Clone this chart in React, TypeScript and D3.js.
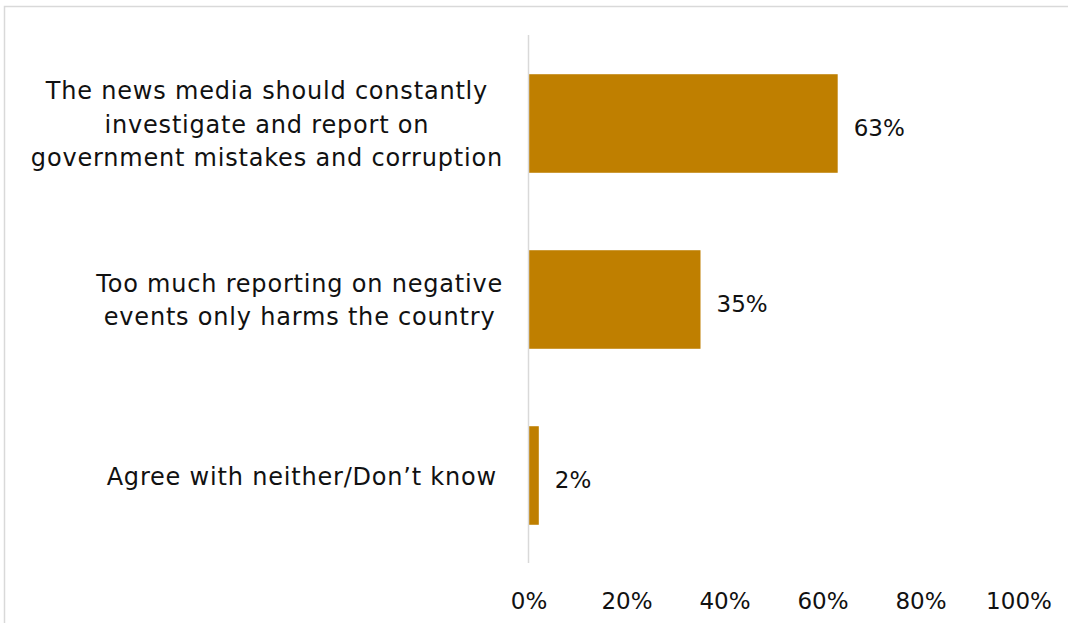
import React, { useEffect, useRef } from "react";
import * as d3 from "d3";

const categories: string[][] = [
  ["The news media should constantly", "investigate and report on", "government mistakes and corruption"],
  ["Too much reporting on negative", "events only harms the country"],
  ["Agree with neither/Don\u2019t know"],
];
const values: number[] = [63, 35, 2];
const ticks: number[] = [0, 20, 40, 60, 80, 100];

const W = 1068;
const H = 623;
const FONT = "'DejaVu Sans', sans-serif";
const BAR = "#BF7F00";
const TEXT = "#111111";

export default function App() {
  const ref = useRef<SVGSVGElement | null>(null);
  useEffect(() => {
    const svg = d3.select(ref.current);
    svg.selectAll("*").remove();

    const x = d3.scaleLinear().domain([0, 100]).range([529, 1019]);
    const y = d3
      .scaleBand<number>()
      .domain(d3.range(values.length))
      .range([35.5, 563.5])
      .paddingInner(0.44)
      .paddingOuter(0.22);

    svg
      .append("rect")
      .attr("x", 4.5)
      .attr("y", 6.5)
      .attr("width", 1100)
      .attr("height", 700)
      .attr("fill", "white")
      .attr("stroke", "#D9D9D9")
      .attr("stroke-width", 1.5);

    svg
      .selectAll("rect.bar")
      .data(values)
      .enter()
      .append("rect")
      .attr("class", "bar")
      .attr("x", x(0))
      .attr("y", (_d, i) => y(i)!)
      .attr("width", (d) => x(d) - x(0))
      .attr("height", y.bandwidth())
      .attr("fill", BAR);

    svg
      .append("line")
      .attr("x1", x(0) - 0.5)
      .attr("x2", x(0) - 0.5)
      .attr("y1", 35)
      .attr("y2", 563)
      .attr("stroke", "#D9D9D9")
      .attr("stroke-width", 1.5);

    svg
      .selectAll("text.val")
      .data(values)
      .enter()
      .append("text")
      .attr("class", "val")
      .attr("x", (d) => x(d) + 16)
      .attr("y", (_d, i) => y(i)! + y.bandwidth() / 2 + 12)
      .attr("font-family", FONT)
      .attr("font-size", 23)
      .attr("fill", TEXT)
      .text((d) => `${d}%`);

    svg
      .selectAll("text.tick")
      .data(ticks)
      .enter()
      .append("text")
      .attr("class", "tick")
      .attr("x", (d) => x(d))
      .attr("y", 609)
      .attr("text-anchor", "middle")
      .attr("font-family", FONT)
      .attr("font-size", 23)
      .attr("fill", TEXT)
      .text((d) => `${d}%`);

    const right = 503;
    const lh = 33.5;
    categories.forEach((lines, i) => {
      const cy = y(i)! + y.bandwidth() / 2;
      const g = svg.append("g");
      const texts = lines.map((l, j) =>
        g
          .append("text")
          .attr("font-family", FONT)
          .attr("font-size", 24)
          .attr("letter-spacing", 0.8)
          .attr("fill", TEXT)
          .attr("text-anchor", "middle")
          .attr("y", cy + (j - (lines.length - 1) / 2) * lh + 9)
          .text(l)
      );
      const widths = texts.map((t) => (t.node() as SVGTextElement).getComputedTextLength());
      const maxW = Math.max(...widths);
      const r = lines.length === 1 ? right - 6 : right;
      texts.forEach((t) => t.attr("x", r - maxW / 2));
    });
  }, []);
  return (
    <svg
      ref={ref}
      width={W}
      height={H}
      style={{ position: "absolute", left: 0, top: 0, background: "white" }}
    />
  );
}
